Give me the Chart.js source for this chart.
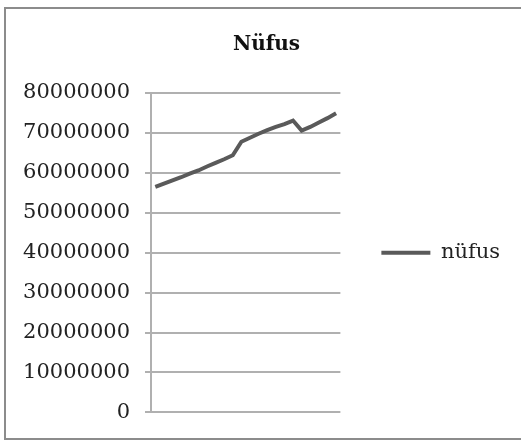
<!DOCTYPE html>
<html>
<head>
<meta charset="utf-8">
<script src="https://cdn.jsdelivr.net/npm/chart.js@4"></script>
<style>
    html, body { margin: 0; padding: 0; background: #fff; overflow: hidden; }
    #frame { position: absolute; left: 4px; top: 7px; width: 560px; height: 429px; border: 2px solid #8c8c8c; }
    #wrap { position: absolute; left: 0; top: 0; width: 521px; height: 440px; }
</style>
</head>
<body>
<div id="frame"></div>
<div id="wrap"><canvas id="nufus"></canvas></div>
<script>
// yillar 1990-2011
var years = ['1990','1991','1992','1993','1994','1995','1996','1997','1998','1999','2000',
             '2001','2002','2003','2004','2005','2006','2007','2008','2009','2010','2011'];
var nufus = [56500000, 57300000, 58100000, 58900000, 59800000, 60600000, 61600000, 62500000,
             63400000, 64400000, 67800000, 68800000, 69800000, 70700000, 71500000, 72200000,
             73100000, 70600000, 71500000, 72600000, 73700000, 74900000];
var yTicks = [0, 10000000, 20000000, 30000000, 40000000, 50000000, 60000000, 70000000, 80000000];

(function(){
    'use strict'

    var lineColor = '#5a5a5a';
    var gridColor = '#b0b0b0';
    var font = 'DejaVu Serif';

    new Chart(document.getElementById('nufus'), {
        type: 'line',
        data: {
            labels: years,
            datasets: [{
                label: 'nüfus',
                data: nufus,
                borderColor: lineColor,
                backgroundColor: lineColor,
                borderWidth: 4,
                pointRadius: 0,
                tension: 0,
                fill: false
            }]
        },
        options: {
            responsive: true,
            maintainAspectRatio: false,
            animation: false,
            layout: { padding: { left: 23, right: 11, top: 0, bottom: 26 } },
            plugins: {
                title: {
                    display: true,
                    text: 'Nüfus',
                    color: '#111',
                    font: { family: font, size: 20, weight: 'bold' },
                    padding: { top: 33, bottom: 36 }
                },
                legend: {
                    position: 'right',
                    fullSize: false,
                    maxWidth: 220,
                    labels: {
                        color: '#222',
                        font: { family: font, size: 21 },
                        boxWidth: 49,
                        boxHeight: 4,
                        padding: 41,
                        generateLabels: function(chart){
                            var items = Chart.defaults.plugins.legend.labels.generateLabels(chart);
                            items.forEach(function(it){
                                it.lineWidth = 0;
                                it.fillStyle = lineColor;
                            });
                            return items;
                        }
                    }
                },
                tooltip: { enabled: false }
            },
            scales: {
                x: {
                    offset: true,
                    ticks: { display: false },
                    grid: { display: false, drawTicks: false },
                    border: { display: false },
                    afterFit: function(scale){
                        scale.height = 0;
                    }
                },
                y: {
                    min: yTicks[0],
                    max: yTicks[yTicks.length - 1],
                    afterBuildTicks: function(scale){
                        scale.ticks = yTicks.map(function(v){ return { value: v }; });
                    },
                    afterFit: function(scale){
                        scale.width = 128;
                    },
                    ticks: {
                        color: '#222',
                        font: { family: font, size: 21 },
                        padding: 15,
                        callback: function(v){ return String(v); }
                    },
                    grid: { color: gridColor, lineWidth: 2, tickLength: 6 },
                    border: { color: gridColor, width: 2 }
                }
            }
        }
    });
})();
</script>
</body>
</html>
